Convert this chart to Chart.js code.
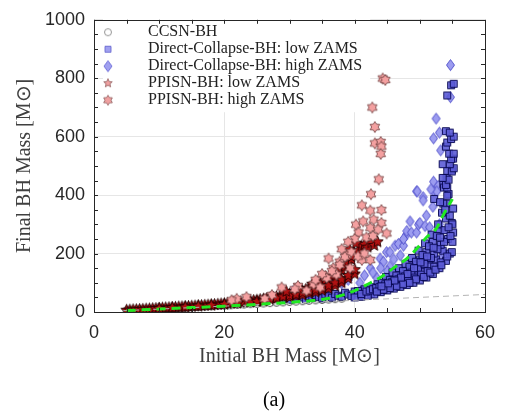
<!DOCTYPE html>
<html>
<head>
<meta charset="utf-8">
<script src="https://cdn.jsdelivr.net/npm/chart.js@4"></script>
<style>
  html, body { margin: 0; padding: 0; background: #fff; }
</style>
</head>
<body>
<canvas id="myChart" width="509" height="416"></canvas>
<script>
// axis ticks
const xTickStep = 20;
const yTickStep = 200;
const xMinorStep = 5;
const yMinorStep = 50;

const seriesNames = [
  'CCSN-BH',
  'Direct-Collapse-BH: low ZAMS',
  'Direct-Collapse-BH: high ZAMS',
  'PPISN-BH: low ZAMS',
  'PPISN-BH: high ZAMS'
];

// [initial mass, final mass]
const ccsn = [[5,5.2],[5.5,5.8],[6,6.3],[6.5,6.9],[7,7.4],[7.5,8],[8,8.5],[8.5,9.1],[9,9.6],[9.5,10.2],
  [10,10.7],[10.5,11.3],[11,11.8],[11.5,12.4],[12,13],[12.5,13.4],[13,14.1],[13.5,14.6],[14,15.2],[14.5,15.8],
  [15,16.4],[16,17.5],[17,18.6],[18,19.8],[19,20.9],[20,22],[21,23.1],[22,24.3],[23,25.5],[24,26.8],[25,27.9],
  [26,29.2],[27,30.4],[28,31.8],[29,33],[30,34.3],[31,35.6],[32,37],[33,38.5],[34,39.8],[35,41.2],[36,42.7],
  [37,44],[38,45.6]];

const dcLow = [[29,45],[29.3,55],[29.8,50],[30.2,42],[30.6,52],[31,46],[31.5,56],[32,50],[32.5,44],[33,54],
  [33.5,48],[34,58],[34.5,52],[35,47],[35.5,60],[36,54],[36.5,49],[37,62],[37.5,56],[38,52],[38.5,66],[39,60],
  [39.5,55],[40,70],[40.5,64],[41,58],[41.5,75],[42,68],[42.5,62],[43,80],[43.5,73],[44,68],[44,90],[44.5,80],
  [45,74],[45,100],[45.5,88],[46,80],[46,112],[46.5,96],[47,86],[47,125],[47.5,104],[48,92],[48,140],[48.5,115],
  [49,100],[49,160],[49.5,128],[50,108],[50,180],[50.5,140],[51,118],[51,205],[51.5,160],[52,130],[52,240],
  [52.5,180],[53,150],[53,280],[53.5,210],[54,175],[54,320],[54.3,250],[54.6,200],[54.9,305],[55.1,272],
  [54.9,205],[54.1,371],[55.1,354],[54.4,404],[53.6,437],[54.1,459],[54.9,487],[55.1,525],[53.6,371],[54.2,398],
  [52.2,387],[53.1,376],[53.7,426],[54.2,426],[54,435],[54.4,453],[53.5,459],[54.2,483],[54.9,481],[55.2,492],
  [53.5,506],[54.6,506],[54.8,523],[54.5,542],[55.2,542],[54,566],[54.2,580],[54.8,592],[55.2,600],[54,619],
  [54.6,614],[54.2,741],[54.8,776],[55.2,781],[44.8,120],[45.8,135],[46.8,150],[47.8,165],[48.8,185],[49.8,210],
  [50.8,235],[51.8,265],[52.8,300],[53.4,340],[52.6,260],[51.4,225],[50.4,195],[49.4,172],[48.4,155],[47.4,140],
  [46.4,125],[45.4,110],[43.5,95],[42.5,85],[41.5,78],[40.5,72],[53.8,280],[54.6,330],[55,240],[50.2,160],
  [51.2,180],[52.2,200],[53.2,230],[49.2,140],[48.2,125],[47.2,115],[46.2,102],[44.2,100],[43,60],[42,56],
  [41,52],[40,50],[41,62],[41.8,70],[42.3,74],[42.8,78],[43.3,82],[43.8,86],[44.3,78],[44.7,95],[45.2,92],
  [45.7,102],[46.2,92],[46.7,112],[47.2,100],[47.7,122],[48.2,108],[48.7,135],[49.2,118],[49.7,150],[50.2,128],
  [50.7,165],[51.2,140],[51.7,185],[52.2,155],[52.7,215],[53.2,170],[53.7,240],[54.2,190],[54.7,260],[55,300],
  [50.6,120],[51.6,135],[52.4,145],[53.3,160],[49.4,112],[48.4,100],[47.4,95],[46.4,88],[45.4,82],[44.4,76],
  [43.4,70],[53.9,350],[54.4,290],[53.1,255],[52.1,220],[51.1,190],[50.1,170],[49.1,150],[48.1,130],[47.1,118],
  [46.1,108],[45.1,98],[44.1,88]];

const dcHigh = [[29.5,62],[30.5,70],[31.5,66],[33,75],[34.5,72],[35.5,85],[36.5,92],[38,98],[39,110],[40.8,100],
  [41.5,125],[42.4,150],[43.4,117],[43.9,183],[44.4,172],[44.9,205],[45.4,156],[45.4,205],[46.2,227],[46.7,233],
  [47,194],[47.5,227],[48,266],[48,277],[48.5,310],[48.7,272],[49.5,413],[49.5,272],[49.8,299],[50,305],
  [50.5,393],[50.8,294],[52.1,415],[52.1,446],[52.8,431],[52.6,413],[51.7,420],[49.6,413],[50.5,382],[53.3,183],
  [53.6,205],[52.1,594],[53,614],[52.5,662],[53.2,553],[54.7,735],[54.7,845],[51,330],[52,360],[53,300],
  [46,180],[47.5,250],[45,140],[42.8,135],[44,150],[51.5,290]];

const ppisnLow = [[5,6],[5.5,6.6],[6,7.3],[6.5,7.8],[7,8.6],[7.5,9.1],[8,9.9],[8.5,10.4],[9,11.2],[9.5,11.8],
  [10,12.5],[10.5,13.3],[11,14],[11.5,14.6],[12,15.4],[12.5,16],[13,16.9],[13.5,17.5],[14,18.3],[14.5,19],
  [15,19.8],[15.5,20.5],[16,21.4],[16.5,22],[17,23],[17.5,23.7],[18,24.6],[18.5,25.5],[19,26.4],[19.5,27.5],
  [20,28.3],[20.5,29.6],[21,30.5],[21.5,31.8],[22,32.6],[22.5,34],[23,35.2],[23.5,36.5],[24,37.8],[24.5,39.3],
  [25,40.6],[25.5,42.5],[26,44],[26.5,45.8],[27,47.5],[27.5,49.2],[28,51.6],[28.5,53],[29,55.8],[29.5,58],
  [30,61],[30.5,64],[31,66],[31.5,70],[32,73],[32.5,77],[33,80],[33.5,86],[34,90],[34.5,96],[35,100],[35.5,108],
  [36,112],[36.5,120],[37,126],[37.5,135],[38,142],[38.5,155],[39,165],[39.5,180],[40,196],[40.5,210],[41,225],
  [41.5,232],[42,222],[42.5,236],[43,228],[43.5,240],[39.2,215],[40.2,235],[30,50],[31,55],[32,58],[33,64],
  [34,68],[35,74],[36,80],[37,90],[38,100],[39,115],[40,130],[28,45],[26,40],[24,34],[22,30],[20,26],[18,23],
  [16,20],[14,17],[12,14.5],[10,12],[25,36],[26,38],[27,44],[28,48],[29,52],[30,56],[31,60],[32,66],[33,70],
  [34,76],[35,82],[36,90],[37,100],[38,110],[39,125],[40,145],[29.5,70],[31.5,80],[33.5,95],[35.5,120],
  [37.5,150],[39.5,190]];

const ppisnHigh = [[44.3,799],[44.7,794],[42.7,700],[43.1,633],[43.1,577],[44,582],[44.1,566],[44,541],[43.7,454],
  [42.5,403],[41.1,365],[42.4,347],[44.1,349],[40.2,299],[41.3,310],[42.9,316],[44.1,305],[44.9,269],[40.6,272],
  [42.4,288],[43.6,282],[40,250],[41.8,255],[37.7,172],[38.8,194],[41.1,178],[42.4,178],[36.7,150],[36,183],
  [38.5,189],[37.7,161],[39.3,150],[37.2,128],[35.7,117],[33.7,95],[34.7,84],[32.6,73],[31.3,89],[30.8,78],
  [28.8,84],[27.3,58],[26.2,45],[23.4,51],[21.9,45],[21.1,40],[39.5,205],[40.5,190],[38,215],[39,240],
  [42.8,260],[41.5,200],[36.5,140],[35,130],[34,110]];

// fitted curve (green dashed) and the 1:1 line (grey dashed)
const fitCurve = [[5,5],[10,10],[15,15],[20,20],[25,26],[30,33],[35,43],[38,57],[40,73],[42,95],[44,119],
  [46,151],[48,183],[49.5,216],[51,255],[52.6,288],[53.6,332],[55,387]];
const oneToOne = [[4.5,4.5],[60,60]];

const toXY = arr => arr.map(p => ({x: p[0], y: p[1]}));

// marker images
function marker(shape, fill, edge, w, h, boxW, cx) {
  const c = document.createElement('canvas');
  c.width = boxW || Math.ceil(w + 3);
  c.height = Math.ceil(h + 3);
  const g = c.getContext('2d');
  const x0 = cx || c.width / 2, y0 = c.height / 2;
  const rx = w / 2, ry = h / 2;
  g.beginPath();
  if (shape === 'circle') {
    g.arc(x0, y0, rx, 0, Math.PI * 2);
  } else if (shape === 'square') {
    g.rect(x0 - rx, y0 - ry, w, h);
  } else if (shape === 'diamond') {
    g.moveTo(x0, y0 - ry); g.lineTo(x0 + rx, y0); g.lineTo(x0, y0 + ry); g.lineTo(x0 - rx, y0); g.closePath();
  } else {
    const n = shape === 'star6' ? 6 : 5;
    const inner = n === 6 ? 0.6 : 0.45;
    for (let i = 0; i < 2 * n; i++) {
      const a = -Math.PI / 2 + i * Math.PI / n;
      const k = i % 2 ? inner : 1;
      const px = x0 + Math.cos(a) * rx * k, py = y0 + Math.sin(a) * ry * k;
      if (i === 0) g.moveTo(px, py); else g.lineTo(px, py);
    }
    g.closePath();
  }
  g.fillStyle = fill;
  g.fill();
  g.lineWidth = 0.9;
  g.strokeStyle = edge;
  g.stroke();
  return c;
}

const ccsnMark = marker('circle', 'rgba(255,255,255,0.5)', '#3a3a3a', 7, 7);
const sqMark = marker('square', 'rgba(92,92,214,0.9)', '#05054e', 7, 7);
const diaMark = marker('diamond', '#9c9cf0', '#4b4bc8', 8, 11);
const starLowMark = marker('star5', '#b01212', '#220000', 12, 12);
const starHighMark = marker('star6', '#f4a0a0', '#7a4848', 11, 11);

const legendIcons = [
  marker('circle', '#fff', '#8a8a8a', 7, 7, 45, 13),
  marker('square', '#a0a0f0', '#6a6ad0', 6, 6, 45, 13),
  marker('diamond', '#a0a0f0', '#6a6ad8', 8, 11, 45, 13),
  marker('star5', '#f0a0a0', '#9a6a6a', 9, 9, 45, 13),
  marker('star6', '#f0a0a0', '#9a6a6a', 10, 10, 45, 13)
];

const ctx = document.getElementById('myChart');

const frameTicks = {
  id: 'frameTicks',
  beforeDatasetsDraw(chart) {
    // white box behind the legend, then the legend again
    const lg = chart.legend;
    const hb = lg.legendHitBoxes;
    const c = chart.ctx;
    const l = Math.min(...hb.map(h => h.left));
    const r = Math.max(...hb.map(h => h.left + h.width));
    const t = hb[0].top;
    const b = hb[hb.length - 1].top + hb[hb.length - 1].height;
    c.save();
    c.fillStyle = '#fff';
    c.fillRect(l + 8, t - 8, r - l, b - t + 12);
    c.restore();
    lg.draw();
  },
  afterDraw(chart) {
    const c = chart.ctx;
    const a = chart.chartArea;
    const xs = chart.scales.x, ys = chart.scales.y;
    c.save();
    c.strokeStyle = '#262626';
    c.lineWidth = 1;
    c.beginPath();
    for (let v = xs.min; v <= xs.max; v += xMinorStep) {
      const px = Math.round(xs.getPixelForValue(v)) + 0.5;
      c.moveTo(px, a.bottom); c.lineTo(px, a.bottom - 4);
      c.moveTo(px, a.top); c.lineTo(px, a.top + 4);
    }
    for (let v = ys.min; v <= ys.max; v += yMinorStep) {
      const py = Math.round(ys.getPixelForValue(v)) + 0.5;
      c.moveTo(a.left, py); c.lineTo(a.left + 4, py);
      c.moveTo(a.right, py); c.lineTo(a.right - 4, py);
    }
    c.stroke();
    c.strokeRect(Math.round(a.left) + 0.5, Math.round(a.top) + 0.5, Math.round(a.right - a.left), Math.round(a.bottom - a.top));
    c.fillStyle = '#000';
    c.font = '20px "Liberation Serif"';
    c.textAlign = 'center';
    c.textBaseline = 'middle';
    c.fillText('(a)', 274, 401);
    c.restore();
  }
};

new Chart(ctx, {
  type: 'scatter',
  data: {
    datasets: [
      { label: seriesNames[0], data: toXY(ccsn), pointStyle: ccsnMark, order: 6 },
      { label: seriesNames[1], data: toXY(dcLow), pointStyle: sqMark, order: 4 },
      { label: seriesNames[2], data: toXY(dcHigh), pointStyle: diaMark, order: 5 },
      { label: seriesNames[3], data: toXY(ppisnLow), pointStyle: starLowMark, order: 3 },
      { label: seriesNames[4], data: toXY(ppisnHigh), pointStyle: starHighMark, order: 2 },
      { type: 'line', label: 'fit', data: toXY(fitCurve), borderColor: '#22e822', borderWidth: 3,
        borderDash: [9, 6], pointRadius: 0, cubicInterpolationMode: 'monotone', order: 0 },
      { type: 'line', label: '1:1', data: toXY(oneToOne), borderColor: '#b4b4b4', borderWidth: 1,
        borderDash: [6, 4], pointRadius: 0, order: 1 }
    ]
  },
  options: {
    responsive: false,
    animation: false,
    layout: { padding: { left: 0, top: 10, right: 24, bottom: 44 } },
    scales: {
      x: {
        type: 'linear', min: 0, max: 60,
        afterFit: s => { s.height = 60; },
        ticks: { stepSize: xTickStep, padding: 10, color: '#262626',
          font: { family: '"Liberation Sans"', size: 18 }, callback: v => String(v) },
        grid: { color: '#e6e6e6', drawTicks: false },
        border: { display: false },
        title: { display: true, text: 'Initial BH Mass [M⊙]', color: '#404040',
          font: { family: '"Liberation Serif"', size: 20 }, padding: { top: 3, bottom: 3 } }
      },
      y: {
        type: 'linear', min: 0, max: 1000,
        afterFit: s => { s.width = 94; },
        ticks: { stepSize: yTickStep, padding: 9, color: '#262626',
          font: { family: '"Liberation Sans"', size: 18 }, callback: v => String(v) },
        grid: { color: '#e6e6e6', drawTicks: false },
        border: { display: false },
        title: { display: true, text: 'Final BH Mass [M⊙]', color: '#404040',
          font: { family: '"Liberation Serif"', size: 20 }, padding: { top: 13, bottom: 0 } }
      }
    },
    plugins: {
      tooltip: { enabled: false },
      legend: {
        position: 'chartArea',
        align: 'start',
        title: { display: true, text: ' ', font: { size: 1 }, padding: { top: 22, bottom: 0 } },
        labels: {
          usePointStyle: true,
          pointStyleWidth: 45,
          padding: 1,
          color: '#222',
          font: { family: '"Liberation Serif"', size: 16 },
          generateLabels(chart) {
            const items = Chart.defaults.plugins.legend.labels.generateLabels(chart);
            return items.filter(it => it.datasetIndex < 5)
              .sort((a, b) => a.datasetIndex - b.datasetIndex)
              .map(it => Object.assign(it, { pointStyle: legendIcons[it.datasetIndex] }));
          }
        }
      }
    }
  },
  plugins: [frameTicks]
});
</script>
</body>
</html>
